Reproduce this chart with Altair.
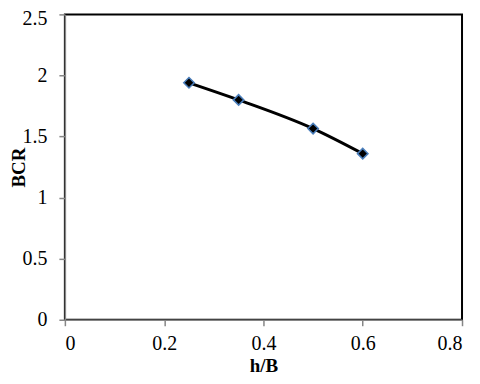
import altair as alt
import pandas as pd

hB = [0.25, 0.35, 0.5, 0.6]
bcr = [1.94, 1.80, 1.565, 1.36]

df = pd.DataFrame({"hB": hB, "BCR": bcr})

FONT = "Liberation Serif"

x = alt.X("hB:Q", title="h/B",
          scale=alt.Scale(domain=[0, 0.8], nice=False, zero=True),
          axis=alt.Axis(values=[0, 0.2, 0.4, 0.6, 0.8], format="~g", grid=False,
                        domainColor="#868686", domainWidth=1.5, tickColor="#868686",
                        tickSize=6, tickWidth=1.5, labelFont=FONT,
                        labelFontSize=20, labelColor="black", labelPadding=8,
                        titleFont=FONT, titleFontSize=19,
                        titleFontWeight="bold", titleColor="black", titlePadding=3))
y = alt.Y("BCR:Q", title="BCR",
          scale=alt.Scale(domain=[0, 2.5], nice=False),
          axis=alt.Axis(values=[0, 0.5, 1, 1.5, 2, 2.5], format="~g", grid=False,
                        domainColor="#868686", domainWidth=1.5, tickColor="#868686",
                        tickSize=6, tickWidth=1.5, labelFont=FONT,
                        labelFontSize=20, labelColor="black", labelPadding=12,
                        labelOffset=alt.condition("datum.value == 2.5", alt.value(4), alt.value(0)),
                        titleFont=FONT, titleFontSize=19,
                        titleFontWeight="bold", titleColor="black",
                        titleX=-46, titleBaseline="middle", titleAlign="center"))

line = alt.Chart(df).mark_line(color="black", strokeWidth=3, interpolate="monotone").encode(x=x, y=y)
pts = alt.Chart(df).mark_point(shape="diamond", filled=True, fill="black", stroke="#4a7ebb",
                               strokeWidth=1.5, size=110, opacity=1).encode(x=x, y=y)

chart = (line + pts).properties(
    width=398, height=306,
    autosize=alt.AutoSizeParams(type="none"),
    padding={"left": 57, "top": 6, "right": 10, "bottom": 62},
).configure_view(stroke="black", strokeWidth=2)

chart.save("out.html", embed_options={"renderer": "svg", "actions": False})
